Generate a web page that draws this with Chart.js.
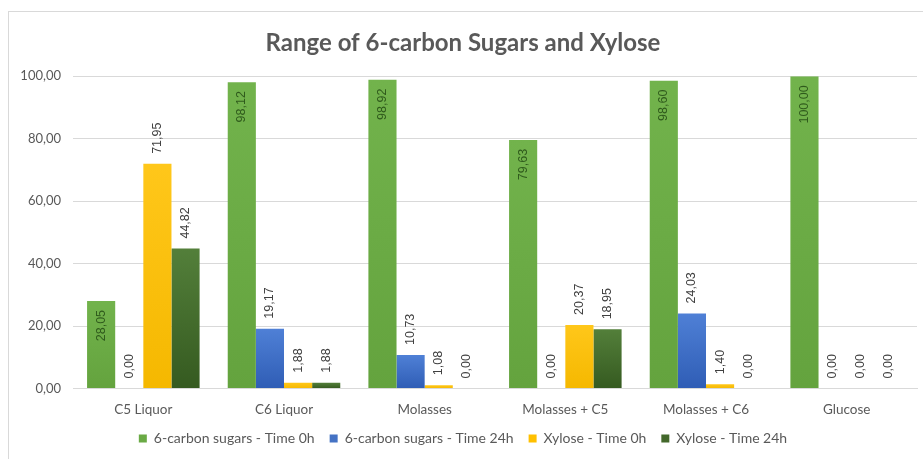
<!DOCTYPE html>
<html>
<head>
<meta charset="utf-8">
<script src="https://cdn.jsdelivr.net/npm/chart.js@4"></script>
<style>
  html, body { margin: 0; padding: 0; background: #ffffff; }
  #frame {
    position: absolute; left: 8px; top: 11px;
    width: 915px; height: 448px;
    border-left: 1px solid #d9d9d9; border-top: 1px solid #d9d9d9;
  }
  #frame canvas { display: block; }
</style>
</head>
<body>
<div id="frame"><canvas id="chart" width="914" height="447"></canvas></div>
<script>
// Samples on the category axis
const categories = ['C5 Liquor', 'C6 Liquor', 'Molasses', 'Molasses + C5', 'Molasses + C6', 'Glucose'];

// Percentages per sample
const sugars6c_0h  = [28.05, 98.12, 98.92, 79.63, 98.60, 100.00];
const sugars6c_24h = [0.00, 19.17, 10.73, 0.00, 24.03, 0.00];
const xylose_0h    = [71.95, 1.88, 1.08, 20.37, 1.40, 0.00];
const xylose_24h   = [44.82, 1.88, 0.00, 18.95, 0.00, 0.00];

// Value axis ticks
const yTicks = [0, 20, 40, 60, 80, 100];

const seriesNames = [
  '6-carbon sugars - Time 0h',
  '6-carbon sugars - Time 24h',
  'Xylose - Time 0h',
  'Xylose - Time 24h'
];

const fmt = v => v.toFixed(2).replace('.', ',');

// colour pairs: top of bar, bottom of bar
const palette = [
  { solid: '#6aaa45', top: '#72b34c', bottom: '#64a33e', label: '#2f5a1c', inside: true },
  { solid: '#4472c4', top: '#4f80d6', bottom: '#2f5db5', label: '#404040', inside: false },
  { solid: '#ffc000', top: '#ffc71a', bottom: '#f5b800', label: '#404040', inside: false },
  { solid: '#43682b', top: '#537f3a', bottom: '#355a20', label: '#404040', inside: false }
];

function barFill(idx) {
  return function (context) {
    const chart = context.chart;
    const p = palette[idx];
    const area = chart.chartArea;
    const yScale = chart.scales.y;
    if (!area || !yScale || context.parsed == null) return p.solid;
    const top = yScale.getPixelForValue(context.parsed.y);
    const base = yScale.getPixelForValue(0);
    if (!isFinite(top) || !isFinite(base) || base - top < 1) return p.solid;
    const g = chart.ctx.createLinearGradient(0, top, 0, base);
    g.addColorStop(0, p.top);
    g.addColorStop(1, p.bottom);
    return g;
  };
}

// Rotated value labels on each bar
const valueLabels = {
  id: 'valueLabels',
  afterDatasetsDraw(chart) {
    const ctx = chart.ctx;
    chart.data.datasets.forEach((ds, di) => {
      const meta = chart.getDatasetMeta(di);
      const p = palette[di];
      meta.data.forEach((bar, i) => {
        const v = ds.data[i];
        ctx.save();
        ctx.font = '12.5px "Liberation Sans", Arial, sans-serif';
        ctx.fillStyle = p.label;
        ctx.textBaseline = 'middle';
        if (p.inside && v > 10) {
          ctx.translate(bar.x, bar.y + 9);
          ctx.rotate(-Math.PI / 2);
          ctx.textAlign = 'right';
        } else {
          ctx.translate(bar.x, bar.y - 10);
          ctx.rotate(-Math.PI / 2);
          ctx.textAlign = 'left';
        }
        ctx.fillText(fmt(v), 0, 0);
        ctx.restore();
      });
    });
  }
};

const seriesData = [sugars6c_0h, sugars6c_24h, xylose_0h, xylose_24h];

new Chart(document.getElementById('chart'), {
  type: 'bar',
  data: {
    labels: categories,
    datasets: seriesData.map((d, i) => ({
      label: seriesNames[i],
      data: d,
      backgroundColor: barFill(i),
      borderWidth: 0,
      categoryPercentage: 0.8,
      barPercentage: 1.0
    }))
  },
  options: {
    responsive: false,
    devicePixelRatio: 1,
    animation: false,
    layout: { padding: { top: 4, right: 6, left: 0, bottom: 3.5 } },
    plugins: {
      title: {
        display: true,
        text: 'Range of 6-carbon Sugars and Xylose',
        color: '#595959',
        font: { family: 'Lato', size: 24, weight: 'bold' },
        padding: { top: 13, bottom: 18.5 }
      },
      legend: {
        position: 'bottom',
        labels: {
          color: '#595959',
          font: { family: 'Lato', size: 14 },
          boxWidth: 8,
          boxHeight: 8,
          padding: 15,
          generateLabels(chart) {
            return chart.data.datasets.map((ds, i) => ({
              text: ds.label,
              fillStyle: palette[i].solid,
              strokeStyle: palette[i].solid,
              lineWidth: 0,
              fontColor: '#595959',
              datasetIndex: i,
              hidden: false
            }));
          }
        }
      },
      tooltip: { enabled: false }
    },
    scales: {
      x: {
        afterFit(scale) { scale.height = 28; },
        grid: { display: false, drawTicks: false },
        border: { display: true, color: '#d9d9d9', width: 1 },
        ticks: { color: '#595959', font: { family: 'Lato', size: 13.5 }, padding: 13 }
      },
      y: {
        min: 0,
        max: 100,
        afterFit(scale) { scale.width = 64; },
        afterBuildTicks(scale) { scale.ticks = yTicks.map(v => ({ value: v })); },
        grid: { color: '#d9d9d9', drawTicks: false },
        border: { display: false },
        ticks: {
          color: '#595959',
          font: { family: 'Lato', size: 13 },
          padding: 12,
          callback: v => fmt(v)
        }
      }
    }
  },
  plugins: [valueLabels]
});
</script>
</body>
</html>
